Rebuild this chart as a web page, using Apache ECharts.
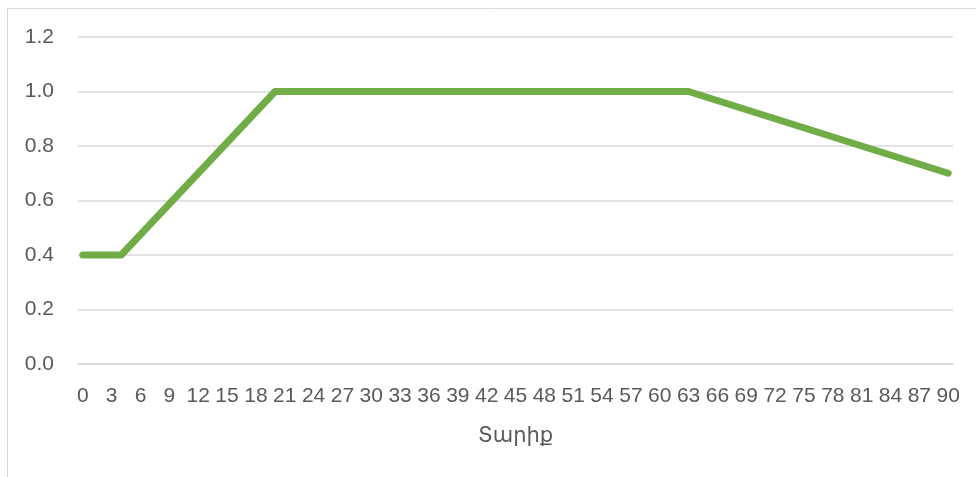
<!DOCTYPE html>
<html>
<head>
<meta charset="utf-8">
<script src="https://cdn.jsdelivr.net/npm/echarts@6/dist/echarts.min.js"></script>
<style>
  html, body { margin: 0; padding: 0; background: #fff; }
  #chart { width: 976px; height: 477px; }
</style>
</head>
<body>
<div id="chart"></div>
<script>
// days 0..90, labels shown every 3rd
var days = [];
for (var d = 0; d <= 90; d++) days.push(String(d));
// break points of the curve (day index, value)
var keyDays = [0, 4, 20, 63, 90];
var keyValues = [0.4, 0.4, 1.0, 1.0, 0.7];
var axisName = 'Տարիք';

var font = '"Liberation Sans", "DejaVu Sans", sans-serif';
var textColor = '#595959';
var gridColor = '#d9d9d9';

var myChart = echarts.init(document.getElementById('chart'));

var option = {
    animation: false,
    backgroundColor: '#fff',
    graphic: [{
        type: 'rect',
        shape: { x: 7.5, y: 8.5, width: 1200, height: 700 },
        style: { fill: 'none', stroke: gridColor, lineWidth: 1 },
        silent: true
    }],
    grid: { left: 78, right: 23, top: 37, bottom: 113 },
    xAxis: {
        type: 'category',
        data: days,
        boundaryGap: true,
        name: axisName,
        nameLocation: 'middle',
        nameGap: 62,
        nameTextStyle: { color: textColor, fontSize: 21, fontFamily: font },
        axisLine: { show: true, lineStyle: { color: gridColor, width: 1.5 } },
        axisTick: { show: false },
        axisLabel: {
            interval: 2,
            margin: 22,
            color: textColor,
            fontSize: 21,
            fontFamily: font
        },
        splitLine: { show: false }
    },
    yAxis: {
        type: 'value',
        min: 0,
        max: 1.2,
        interval: 0.2,
        axisLine: { show: false },
        axisTick: { show: false },
        axisLabel: {
            margin: 24,
            color: textColor,
            fontSize: 21,
            fontFamily: font,
            formatter: function (v) { return v.toFixed(1); }
        },
        splitLine: { lineStyle: { color: gridColor, width: 1.5 } }
    },
    series: [{
        type: 'line',
        showSymbol: false,
        symbol: 'none',
        data: keyDays.map(function (d, i) { return [d, keyValues[i]]; }),
        lineStyle: { color: '#70ad47', width: 7, cap: 'round', join: 'round' }
    }]
};
myChart.setOption(option);
</script>
</body>
</html>
